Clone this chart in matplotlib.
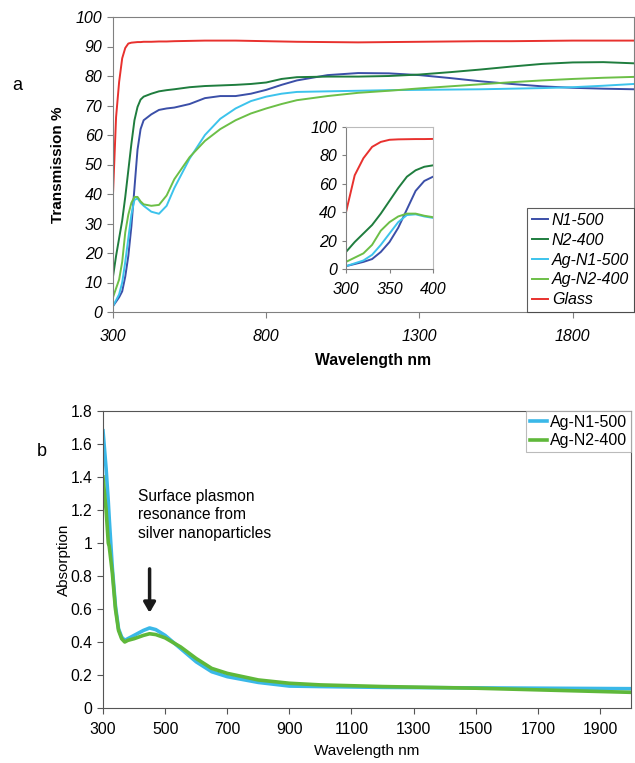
import matplotlib
matplotlib.use("Agg")
import matplotlib.pyplot as plt

plt.rcParams['font.family'] = ['Liberation Sans', 'DejaVu Sans']

# ---------------- Panel a data (Transmission %) ----------------
wl_a = [300, 310, 320, 330, 340, 350, 360, 370, 380, 390, 400,
        425, 450, 475, 500, 550, 600, 650, 700, 750, 800, 850, 900,
        1000, 1100, 1200, 1300, 1400, 1500, 1600, 1700, 1800, 1900, 2000]
n1_500 = [2, 3.5, 5, 7, 12, 19, 29, 42, 55, 62, 65,
          67, 68.5, 69, 69.3, 70.5, 72.5, 73.2, 73.2, 74, 75.3, 77, 78.5,
          80.3, 81, 80.9, 80.3, 79.3, 78.2, 77.3, 76.5, 76, 75.7, 75.5]
n2_400 = [12, 19, 25, 31, 39, 48, 57, 65, 69.5, 72, 73,
          74, 74.8, 75.2, 75.5, 76.2, 76.6, 76.8, 77, 77.3, 77.8, 79, 79.6,
          79.8, 79.8, 80, 80.5, 81.3, 82.2, 83.2, 84.1, 84.6, 84.7, 84.3]
ag_n1_500 = [2, 4, 6, 10, 17, 25, 33, 38, 38.5, 37, 36,
             34, 33.3, 36, 42, 52, 60, 65.5, 69, 71.5, 73, 74, 74.6,
             74.8, 75, 75.2, 75.3, 75.4, 75.5, 75.7, 75.9, 76.2, 76.7, 77.3]
ag_n2_400 = [5, 8, 11, 17, 27, 33, 37, 39, 39, 37.5, 36.5,
             36, 36.3, 39.5, 45, 52.5, 58, 62, 65, 67.3, 69, 70.5, 71.8,
             73.2, 74.3, 75, 75.8, 76.5, 77.2, 77.9, 78.5, 79, 79.4, 79.7]
glass = [40, 66, 78, 86, 89.5, 91, 91.3, 91.4, 91.5, 91.5, 91.6,
         91.6, 91.7, 91.7, 91.8, 91.9, 92, 92, 92, 91.9, 91.8, 91.7, 91.6,
         91.5, 91.4, 91.5, 91.6, 91.7, 91.8, 91.8, 91.9, 92, 92, 92]

labels_a = ['N1-500', 'N2-400', 'Ag-N1-500', 'Ag-N2-400', 'Glass']
colors_a = ['#3b4fa8', '#1f7d3e', '#3cc3ec', '#6cbf47', '#e8312e']
series_a = [n1_500, n2_400, ag_n1_500, ag_n2_400, glass]

xticks_a = [300, 800, 1300, 1800]
yticks_a = [0, 10, 20, 30, 40, 50, 60, 70, 80, 90, 100]
inset_xticks = [300, 350, 400]
inset_yticks = [0, 20, 40, 60, 80, 100]

# ---------------- Panel b data (Absorption) ----------------
wl_b = [300, 310, 317, 320, 330, 340, 350, 360, 370, 380, 400, 430, 450, 470,
        500, 550, 600, 650, 700, 800, 900, 1000, 1200, 1500, 1700, 1900, 2000]
abs_ag_n1_500 = [1.68, 1.45, 1.25, 1.15, 0.85, 0.62, 0.48, 0.43, 0.41, 0.42, 0.44,
                 0.47, 0.485, 0.475, 0.44, 0.36, 0.28, 0.22, 0.19, 0.155, 0.133,
                 0.13, 0.125, 0.122, 0.12, 0.118, 0.117]
abs_ag_n2_400 = [1.40, 1.2, 1.0, 0.98, 0.82, 0.6, 0.47, 0.42, 0.40, 0.41, 0.42,
                 0.44, 0.45, 0.445, 0.425, 0.37, 0.3, 0.24, 0.21, 0.17, 0.15,
                 0.14, 0.13, 0.12, 0.11, 0.1, 0.095]
labels_b = ['Ag-N1-500', 'Ag-N2-400']
colors_b = ['#3ab8e8', '#5fb83a']
xticks_b = [300, 500, 700, 900, 1100, 1300, 1500, 1700, 1900]
yticks_b = [0, 0.2, 0.4, 0.6, 0.8, 1, 1.2, 1.4, 1.6, 1.8]
ytick_labels_b = ['0', '0.2', '0.4', '0.6', '0.8', '1', '1.2', '1.4', '1.6', '1.8']

W, H = 635, 763
fig = plt.figure(figsize=(W / 100, H / 100), dpi=100)

def frac(l, t, r, b):
    return [l / W, 1 - b / H, (r - l) / W, (b - t) / H]

spine_col = '#808080'

# ---------------- Panel a ----------------
axa = fig.add_axes(frac(113, 17, 634, 312))
for y, lab, c in zip(series_a, labels_a, colors_a):
    axa.plot(wl_a, y, color=c, lw=1.4, label=lab)
axa.set_xlim(300, 2000)
axa.set_ylim(0, 100)
axa.set_xticks(xticks_a)
axa.set_yticks(yticks_a)
axa.tick_params(axis='both', labelsize=11.5, direction='out', length=4, color=spine_col)
axa.tick_params(axis='x', pad=8)
for lab in axa.get_xticklabels() + axa.get_yticklabels():
    lab.set_fontstyle('italic')
for s in axa.spines.values():
    s.set_color(spine_col)
axa.set_xlabel('Wavelength nm', fontsize=11.3, fontweight='bold', labelpad=7)
axa.set_ylabel('Transmission %', fontsize=11, fontweight='bold', labelpad=8)
lega = axa.legend(loc='lower right', bbox_to_anchor=(1.0, 0.0),
                  prop={'style': 'italic', 'size': 11.5}, frameon=True, fancybox=False,
                  edgecolor='#333333', handlelength=1.0, handletextpad=0.25,
                  labelspacing=0.3, borderpad=0.3, borderaxespad=0.0)
lega.get_frame().set_linewidth(0.8)
fig.text(12 / W, 1 - 85 / H, 'a', fontsize=13, va='center', ha='left')

# Inset
axi = fig.add_axes(frac(346, 127, 433, 269))
for y, c in zip(series_a, colors_a):
    axi.plot(wl_a, y, color=c, lw=1.4)
axi.set_xlim(300, 400)
axi.set_ylim(0, 100)
axi.set_xticks(inset_xticks)
axi.set_yticks(inset_yticks)
axi.tick_params(axis='both', labelsize=11.5, direction='out', length=3, color=spine_col)
axi.tick_params(axis='x', pad=6)
for lab in axi.get_xticklabels() + axi.get_yticklabels():
    lab.set_fontstyle('italic')
for s in axi.spines.values():
    s.set_color('#bbbbbb')
axi.spines['left'].set_color(spine_col)
axi.spines['bottom'].set_color(spine_col)

# ---------------- Panel b ----------------
axb = fig.add_axes(frac(103, 411, 631, 708))
axb.plot(wl_b, abs_ag_n1_500, color=colors_b[0], lw=2.6, label=labels_b[0])
axb.plot(wl_b, abs_ag_n2_400, color=colors_b[1], lw=2.6, label=labels_b[1])
axb.set_xlim(300, 2000)
axb.set_ylim(0, 1.8)
axb.set_xticks(xticks_b)
axb.set_yticks(yticks_b)
axb.set_yticklabels(ytick_labels_b)
axb.tick_params(axis='both', labelsize=11.3, direction='out', length=4, color='#555555')
axb.tick_params(axis='x', pad=6)
for s in axb.spines.values():
    s.set_color('#555555')
axb.set_xlabel('Wavelength nm', fontsize=11, labelpad=5)
axb.set_ylabel('Absorption', fontsize=11, labelpad=0)
legb = axb.legend(loc='upper right', bbox_to_anchor=(1.0, 1.0), fontsize=11.5,
                  frameon=True, fancybox=False, edgecolor='#aaaaaa',
                  handlelength=1.1, handletextpad=0.15, labelspacing=0.2,
                  borderpad=0.25, borderaxespad=0.0)
legb.get_frame().set_linewidth(0.8)
axb.text(413, 1.33, 'Surface plasmon\nresonance from\nsilver nanoparticles',
         fontsize=11.2, va='top', ha='left', linespacing=1.3)
axb.annotate('', xy=(450, 0.56), xytext=(450, 0.86),
             arrowprops=dict(arrowstyle='-|>,head_width=0.35,head_length=0.6',
                             color='#1a1a1a', lw=2.5))
fig.text(37 / W, 1 - 452 / H, 'b', fontsize=13, va='center', ha='left')

fig.savefig('out.png', dpi=100)
